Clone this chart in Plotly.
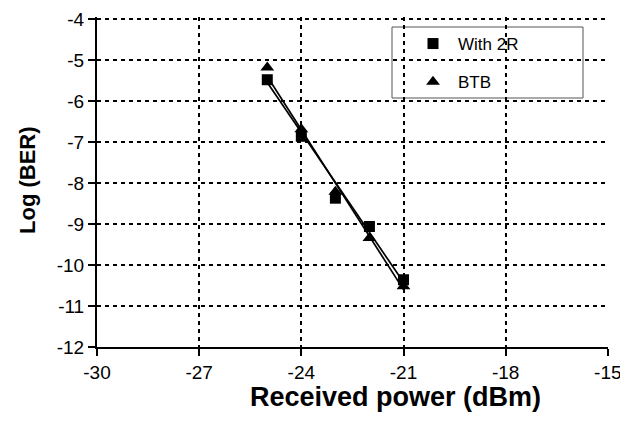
import plotly.graph_objects as go

# Data
power_2r = [-25, -24, -23, -22, -21]
ber_2r = [-5.48, -6.86, -8.37, -9.06, -10.36]
power_btb = [-25, -24, -23, -22, -21]
ber_btb = [-5.18, -6.69, -8.21, -9.34, -10.52]

# straight trend lines, end points
fit_x = [-25, -21]
fit_2r = [-5.55, -10.42]
fit_btb = [-5.4, -10.6]

x_ticks = [-30, -27, -24, -21, -18, -15]
y_ticks = [-4, -5, -6, -7, -8, -9, -10, -11, -12]
x_range = [-30, -14.995]
y_range = [-12, -3.95]

L, R, T, B = 89, 600, 9, 339
W, H = 628, 434
pw, ph = R - L, B - T

fig = go.Figure()
fig.add_trace(go.Scatter(x=fit_x, y=fit_2r, mode="lines",
                         line=dict(color="black", width=1.7), showlegend=False, hoverinfo="skip"))
fig.add_trace(go.Scatter(x=fit_x, y=fit_btb, mode="lines",
                         line=dict(color="black", width=1.7), showlegend=False, hoverinfo="skip"))
fig.add_trace(go.Scatter(x=power_2r, y=ber_2r, mode="markers", name="With 2R",
                         legendgroup="a",
                         marker=dict(symbol="square", size=11, color="black")))
fig.add_trace(go.Scatter(x=power_btb, y=ber_btb, mode="markers", name="BTB",
                         legendgroup="b",
                         marker=dict(symbol="triangle-up", size=12, color="black")))

font_family = "Liberation Sans, Arial, sans-serif"
fig.update_layout(
    width=W, height=H,
    margin=dict(l=L, r=W - R, t=T, b=H - B),
    paper_bgcolor="white", plot_bgcolor="white",
    font=dict(family=font_family, color="black", size=19),
    legend=dict(x=(400 - L) / pw, y=(B - 18) / ph, xanchor="left", yanchor="top",
                bgcolor="rgba(0,0,0,0)", borderwidth=0, itemwidth=40,
                tracegroupgap=13, font=dict(size=17)),
    shapes=[dict(type="rect", xref="paper", yref="paper",
                 x0=(384 - L) / pw, x1=(575 - L) / pw,
                 y0=(B - 90) / ph, y1=(B - 19) / ph,
                 line=dict(color="#555555", width=1), fillcolor="white", layer="below")],
    annotations=[
        dict(text="<b>Received power (dBm)</b>", xref="paper", yref="paper",
             x=(387 - L) / pw, y=(B - 389) / ph, xanchor="center", yanchor="middle",
             showarrow=False, font=dict(size=27)),
        dict(text="<b>Log (BER)</b>", xref="paper", yref="paper",
             x=(19 - L) / pw, y=(B - 172) / ph, xanchor="center", yanchor="middle",
             textangle=-90, showarrow=False, font=dict(size=22)),
    ],
)
fig.update_xaxes(range=x_range, tickvals=x_ticks, ticktext=[str(v) for v in x_ticks],
                 showline=True, linecolor="black", linewidth=2,
                 ticks="outside", ticklen=7, tickwidth=2, tickcolor="black",
                 ticklabelstandoff=0, automargin=False, ticklabeloverflow="allow",
                 showgrid=True, gridcolor="black", gridwidth=2, griddash="4px,4px",
                 zeroline=False)
fig.update_yaxes(range=y_range, tickvals=y_ticks, ticktext=[str(v) for v in y_ticks],
                 showline=True, linecolor="black", linewidth=2,
                 ticks="outside", ticklen=7, tickwidth=2, tickcolor="black",
                 ticklabelstandoff=0, automargin=False, ticklabeloverflow="allow",
                 showgrid=True, gridcolor="black", gridwidth=2, griddash="4px,4px",
                 zeroline=False)
# inner half of the crossing tick marks
fig.update_layout(
    xaxis2=dict(overlaying="x", anchor="y", side="bottom", range=x_range,
                tickvals=x_ticks, ticks="inside", ticklen=7, tickwidth=2, tickcolor="black",
                showticklabels=False, showgrid=False, zeroline=False, showline=False,
                automargin=False),
    yaxis2=dict(overlaying="y", anchor="x", side="left", range=y_range,
                tickvals=y_ticks, ticks="inside", ticklen=7, tickwidth=2, tickcolor="black",
                showticklabels=False, showgrid=False, zeroline=False, showline=False,
                automargin=False),
)

fig.write_html("out.html")
